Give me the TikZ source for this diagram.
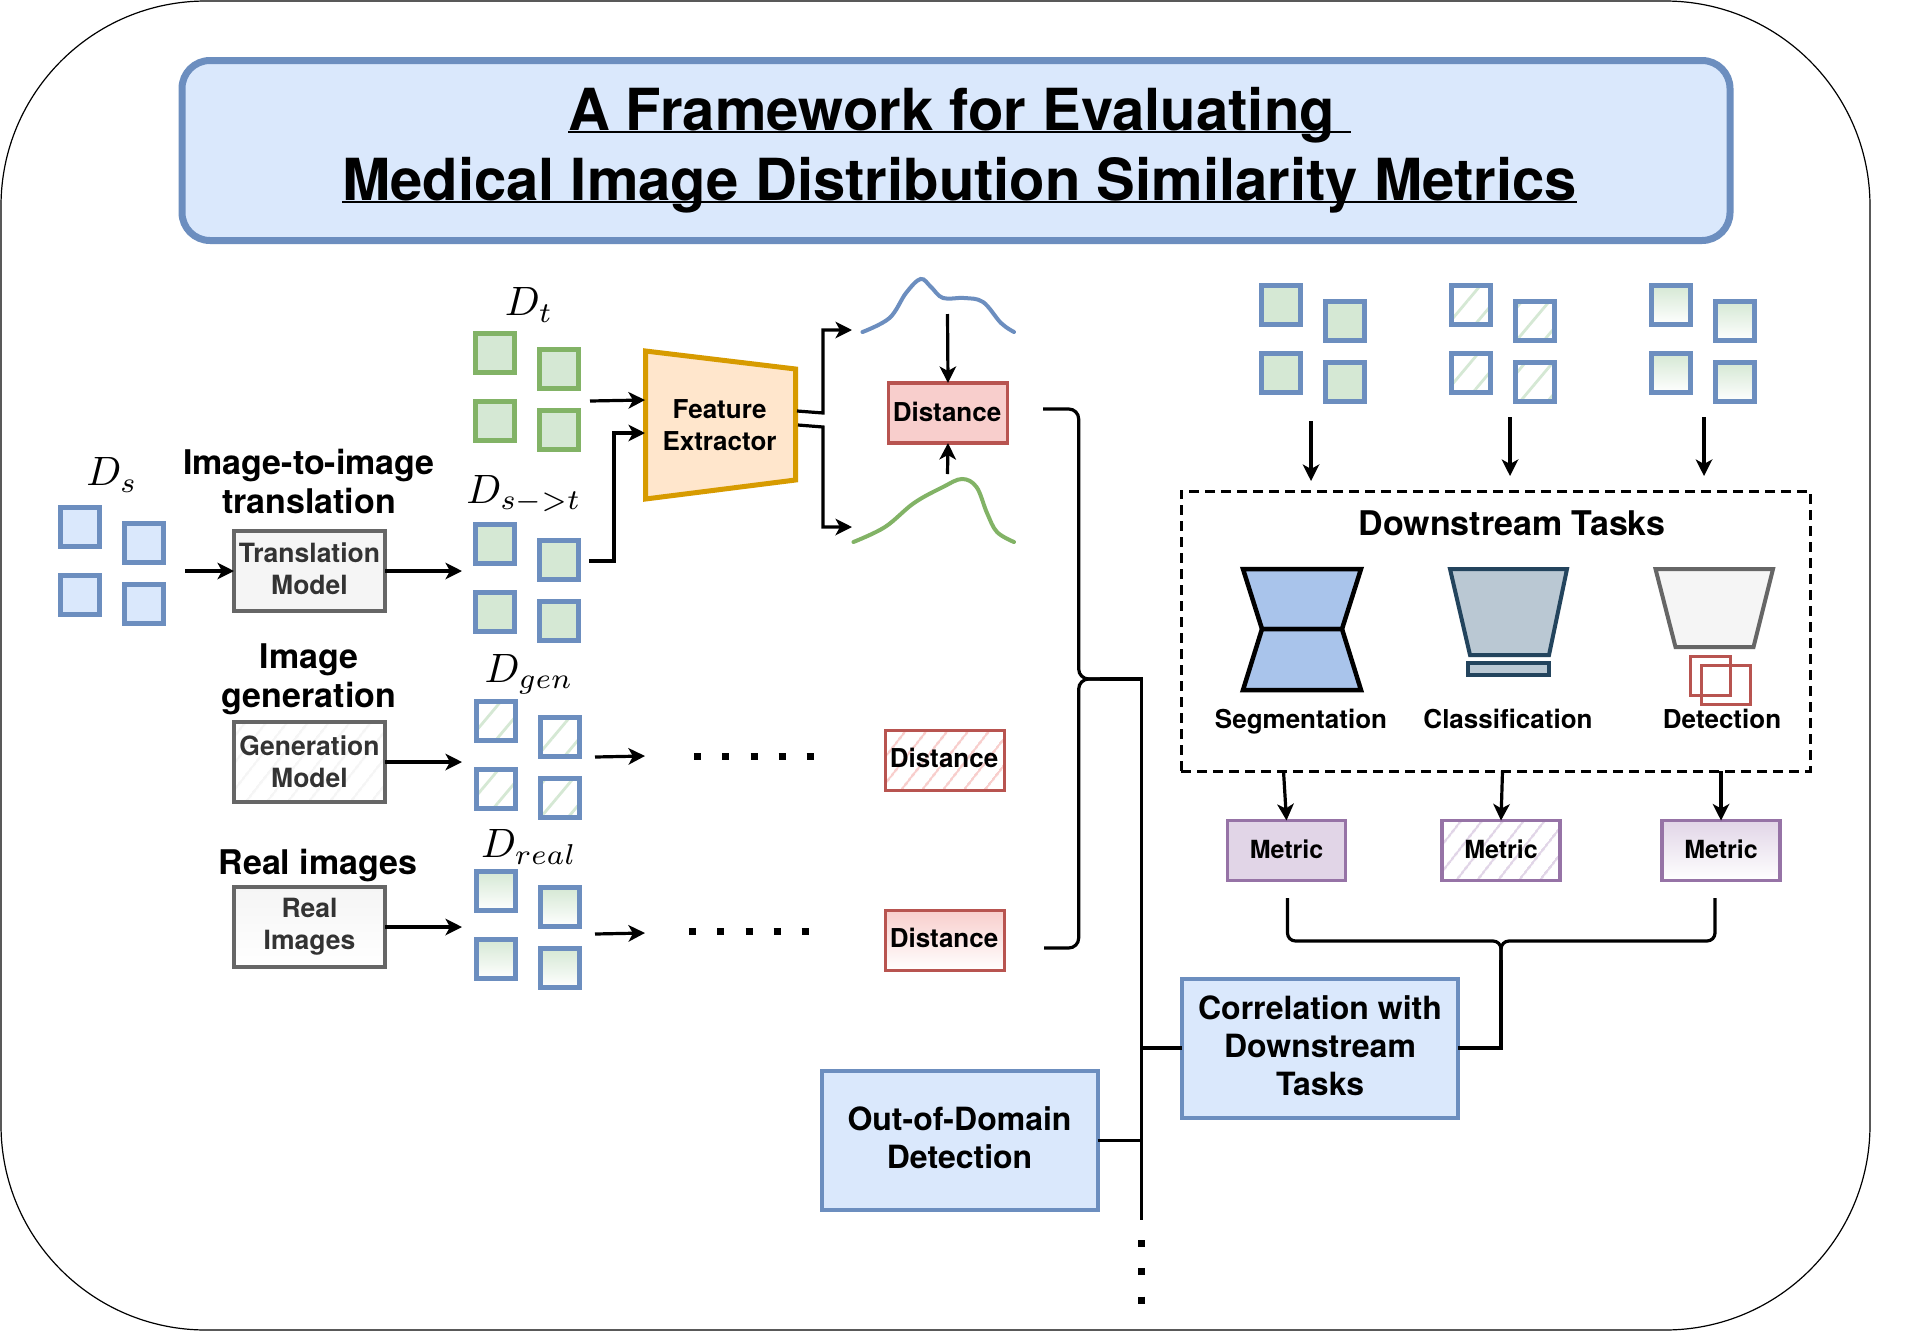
\documentclass[tikz,border=0pt]{standalone}
\usepackage{fontspec}
\setmainfont{TeX Gyre Heros}
\usetikzlibrary{arrows.meta,patterns.meta,shadings}
\definecolor{cblue}{HTML}{6C8EBF}
\definecolor{fblue}{HTML}{DAE8FC}
\definecolor{cgreen}{HTML}{82B366}
\definecolor{fgreen}{HTML}{D5E8D4}
\definecolor{cred}{HTML}{B85450}
\definecolor{fred}{HTML}{F8CECC}
\definecolor{cpurple}{HTML}{9673A6}
\definecolor{fpurple}{HTML}{E1D5E7}
\definecolor{cgray}{HTML}{666666}
\definecolor{fgray}{HTML}{F5F5F5}
\definecolor{ctext}{HTML}{333333}
\definecolor{corange}{HTML}{D79B00}
\definecolor{forange}{HTML}{FFE6CC}
\definecolor{cnavy}{HTML}{23445D}
\definecolor{fnavy}{HTML}{BAC8D3}
\definecolor{fseg}{HTML}{A9C4EB}
\newcommand{\fs}[2]{\fontsize{#1}{#2}\selectfont\bfseries}
\newcommand{\ulline}[1]{\hspace*{7pt}\setbox0\hbox{#1}\rlap{\rule[-2.2pt]{\wd0}{2pt}}\box0}
\newcommand{\imgset}[4]{%
  \node[#4] (#1a) at (#2+22,#3+22) {};
  \node[#4] (#1b) at (#2+86,#3+38) {};
  \node[#4] (#1c) at (#2+22,#3+90) {};
  \node[#4] (#1d) at (#2+86,#3+99) {};}
\tikzset{
  hatchp/.style={pattern={Lines[angle=52,distance=17pt,line width=2.4pt]},pattern color=#1},
  sq/.style={draw=cblue,line width=5,minimum size=39,inner sep=0,outer sep=0},
  sqblue/.style={sq,fill=fblue},
  sqgreen/.style={sq,draw=cgreen,fill=fgreen},
  sqmix/.style={sq,fill=fgreen},
  sqhatch/.style={sq,pattern={Lines[angle=50,distance=21pt,line width=2.8pt]},pattern color=fgreen},
  sqgrad/.style={sq,top color=fgreen,bottom color=white,draw=cblue},
  arr/.style={line width=3.2,-{Stealth[length=16.5,width=16.5,inset=4.5]}},
  wire/.style={line width=3.2},
  mlabel/.style={scale=4.1,inner sep=0},
  head/.style={font=\fs{34}{39},align=center,inner sep=0},
  tlabel/.style={font=\fs{26}{32},align=center,inner sep=0},
  model/.style={draw=cgray,line width=3.5,minimum width=151,minimum height=80,inner sep=0,outer sep=0,font=\fs{26.5}{32},align=center,text=ctext},
  dist/.style={draw=cred,line width=3.2,minimum width=119,minimum height=60,inner sep=0,outer sep=0,font=\fs{26}{32},align=center},
  metric/.style={draw=cpurple,line width=3.5,minimum width=118,minimum height=60,inner sep=0,outer sep=0,font=\fs{25}{30},align=center},
  bluebox/.style={draw=cblue,fill=fblue,line width=4,minimum width=276,minimum height=139,inner sep=0,outer sep=0,font=\fs{32}{38},align=center},
  curve/.style={line width=4,line cap=round,smooth,tension=0.6},
}
\begin{document}
\begin{tikzpicture}[x=1pt,y=-1pt]
\useasboundingbox (0,0) rectangle (1909,1331);
\fill[white] (0,0) rectangle (1909,1331);
% frame
\draw[line width=1.2,rounded corners=205] (1,1) rectangle (1870,1330);
% title
\node[draw=cblue,fill=fblue,line width=7,rounded corners=28,minimum width=1548,minimum height=180,inner sep=0,outer sep=0,font=\fs{58}{70},align=center] (title) at (956,150.5)
 {\ulline{A Framework for Evaluating\ }\\\ulline{Medical Image Distribution Similarity Metrics}};
% left image sets
\node[mlabel] (lds) at (112,475) {$D_s$};
\imgset{ds}{58}{505}{sqblue}
\node[mlabel] (ldt) at (529,305) {$D_t$};
\imgset{dt}{473}{331}{sqgreen}
\node[mlabel] (ldst) at (524,494) {$D_{s->t}$};
\imgset{dst}{473}{522}{sqmix}
\node[mlabel] (ldgen) at (529,674) {$D_{gen}$};
\imgset{dg}{474}{699}{sqhatch}
\node[mlabel] (ldreal) at (529,847) {$D_{real}$};
\imgset{dr}{474}{869}{sqgrad}
% models
\node[head] (h1) at (309,481) {Image-to-image\\translation};
\node[model,fill=fgray] (trans) at (309.5,571) {\raisebox{5pt}{Translation}\\\raisebox{5pt}{Model}};
\node[head] (h2) at (309,679) {Image\\generation};
\node[model,hatchp=fgray] (gen) at (309.5,762) {Generation\\Model};
\node[head] (h3) at (318,866) {Real images};
\node[model,top color=fgray,bottom color=white,draw=cgray] (real) at (309.5,927) {\raisebox{-5pt}{Real}\\\raisebox{-5pt}{Images}};
\coordinate (dsout) at (185,571);
\coordinate (dstin) at (462,571);
\coordinate (dgin) at (462,762);
\coordinate (drin) at (462,927);
\draw[arr] (dsout) -- (trans.west);
\draw[arr] (trans.east) -- (dstin);
\draw[arr] (gen.east) -- (dgin);
\draw[arr] (real.east) -- (drin);
% feature extractor
\coordinate (fe1) at (645.5,351);
\coordinate (fe2) at (795.5,369);
\coordinate (fe3) at (795.5,480);
\coordinate (fe4) at (645.5,499);
\draw[draw=corange,fill=forange,line width=5] (fe1) -- (fe2) -- (fe3) -- (fe4) -- cycle;
\node[tlabel] (fe) at (719.5,425) {Feature\\Extractor};
\coordinate (dtout) at (590,401);
\coordinate (fein1) at (645,400);
\coordinate (dstout) at (589,561);
\coordinate (fein2) at (645,433);
\draw[arr] (dtout) -- (fein1);
\draw[arr] (dstout) -- (614,561) -- (614,433) -- (fein2);
\coordinate (feout1) at (797,411);
\coordinate (feout2) at (798,425);
\coordinate (cv1) at (852,330);
\coordinate (cv2) at (852,527);
\draw[arr] (feout1) -- (823,413) -- (823,330) -- (cv1);
\draw[arr] (feout2) -- (823,427) -- (823,527) -- (cv2);
% curves
\draw[cblue,curve] plot coordinates {(862.5,332) (889.5,318) (906,293) (920.6,279) (931,287) (943,298) (964,298) (983,302) (1001,323) (1014,332)};
\draw[cgreen,curve] plot coordinates {(853.4,542) (885,527) (914,503) (943,487) (962,479) (976.5,487) (987,513) (997,532) (1014,542)};
% distances
\node[dist,fill=fred] (d1) at (948,413) {\hspace*{-2pt}\raisebox{2pt}{Distance}};
\node[dist,hatchp=fred] (d2) at (945,760.5) {\hspace*{-2pt}\raisebox{5pt}{Distance}};
\node[dist,top color=fred,bottom color=white,draw=cred] (d3) at (945,940.5) {\hspace*{-2pt}\raisebox{5pt}{Distance}};
\coordinate (cv1b) at (947.5,314);
\coordinate (cv2t) at (947.5,474);
\draw[arr] (cv1b) -- (d1.north);
\draw[arr] (cv2t) -- (d1.south);
% generated / real rows
\coordinate (dgo) at (595,757);
\coordinate (dgoe) at (645,756);
\coordinate (dro) at (595,934);
\coordinate (droe) at (645,933);
\draw[arr] (dgo) -- (dgoe);
\draw[arr] (dro) -- (droe);
\coordinate (dots1a) at (694.3,756);
\coordinate (dots1b) at (815,756);
\coordinate (dots2a) at (689.3,931);
\coordinate (dots2b) at (810,931);
\draw[line width=7,dash pattern=on 7pt off 21.1pt] (dots1a) -- (dots1b);
\draw[line width=7,dash pattern=on 7pt off 21.1pt] (dots2a) -- (dots2b);
% bus
\coordinate (busT) at (1141.5,679);
\coordinate (busB) at (1141.5,1220);
\coordinate (d1o) at (1043,409);
\coordinate (d3o) at (1044,948);
\draw[wire,rounded corners=10] (d1o) -- (1078.7,409) -- (1078.7,679) -- (1105,679);
\draw[wire,rounded corners=10] (d3o) -- (1078.7,948) -- (1078.7,679) -- (1105,679);
\draw[wire] (1100,679) -- (busT) -- (busB);
\coordinate (busD1) at (1141.5,1240);
\coordinate (busD2) at (1141.5,1305);
\draw[line width=6.7,dash pattern=on 7pt off 21.3pt] (busD1) -- (busD2);
% outcome boxes
\node[bluebox] (corr) at (1320,1048) {\raisebox{5pt}{Correlation with}\\\raisebox{5pt}{Downstream}\\\raisebox{5pt}{Tasks}};
\node[bluebox] (ood) at (959.5,1140.5) {\raisebox{6pt}{Out-of-Domain}\\\raisebox{6pt}{Detection}};
\draw[wire] (ood.east) -- (ood.east -| busT);
\draw[wire] (corr.west) -- (corr.west -| busT);
% right image sets
\imgset{r1}{1259}{283}{sqmix}
\imgset{r2}{1449}{283}{sqhatch}
\imgset{r3}{1649}{283}{sqgrad}
% downstream box
\node[draw,line width=3,dash pattern=on 10pt off 6pt,minimum width=629,minimum height=280,inner sep=0,outer sep=0] (tasks) at (1495.5,631) {};
\coordinate (a1a) at (1311,421);
\coordinate (a1b) at (1311,481);
\coordinate (a2a) at (1510,417);
\coordinate (a2b) at (1510,476);
\coordinate (a3a) at (1704,417);
\coordinate (a3b) at (1704,476);
\draw[arr] (a1a) -- (a1b);
\draw[arr] (a2a) -- (a2b);
\draw[arr] (a3a) -- (a3b);
\node[head] (tt) at (1512,523) {Downstream Tasks};
% segmentation
\draw[line width=4.5,fill=fseg,line join=miter] (1243,569) -- (1361,569) -- (1342,629) -- (1262,629) -- cycle;
\draw[line width=4.5,fill=fseg,line join=miter] (1262,629) -- (1342,629) -- (1361,690) -- (1243,690) -- cycle;
% classification
\draw[draw=cnavy,fill=fnavy,line width=4] (1450,569) -- (1567,569) -- (1549,655) -- (1470,655) -- cycle;
\draw[draw=cnavy,fill=fnavy,line width=4] (1468,662.5) rectangle (1549,674.5);
% detection
\draw[draw=cgray,fill=fgray,line width=4] (1655.5,569) -- (1773,569) -- (1753.5,647) -- (1675.5,647) -- cycle;
\draw[draw=cred,line width=3] (1690,656) rectangle (1730,695);
\draw[draw=cred,line width=3] (1701,665) rectangle (1750,704);
\node[tlabel] (lseg) at (1301,722) {Segmentation};
\node[tlabel] (lcls) at (1508,719) {Classification};
\node[tlabel] (ldet) at (1722,719) {Detection};
% metrics
\node[metric,fill=fpurple] (m1) at (1286.5,850.5) {\raisebox{2pt}{Metric}};
\node[metric,hatchp=fpurple] (m2) at (1501,850.5) {\raisebox{2pt}{Metric}};
\node[metric,top color=fpurple,bottom color=white,draw=cpurple] (m3) at (1721,850.5) {\raisebox{2pt}{Metric}};
\coordinate (t1) at (1283.5,771);
\coordinate (t2) at (1502.5,771);
\coordinate (t3) at (1721,771);
\draw[arr] (t1) -- (m1.north);
\draw[arr] (t2) -- (m2.north);
\draw[arr] (t3) -- (m3.north);
\coordinate (m1o) at (1287.5,898);
\coordinate (m3o) at (1715,898);
\coordinate (jn) at (1501,960);
\draw[wire,rounded corners=8] (m1o) -- (1287.5,941) -- (1501,941) -- (1501,965);
\draw[wire,rounded corners=8] (m3o) -- (1715,941) -- (1501,941) -- (1501,965);
\draw[wire] (jn) |- (corr.east);
\end{tikzpicture}
\end{document}
